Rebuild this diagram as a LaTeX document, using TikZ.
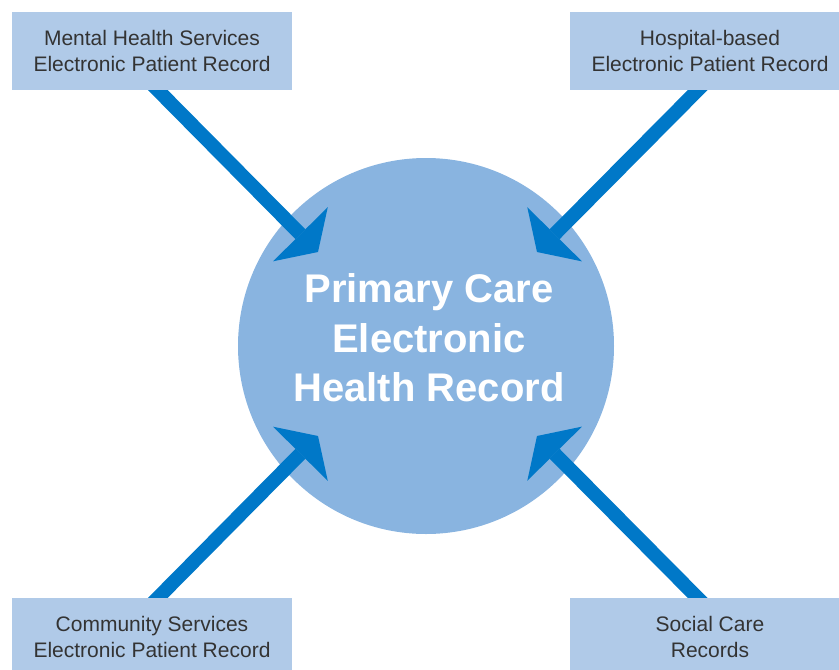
\documentclass[tikz,border=0pt]{standalone}
\usepackage{fontspec}
\setmainfont{Liberation Sans}
\usetikzlibrary{arrows.meta}
\definecolor{boxfill}{HTML}{B0CAE8}
\definecolor{circfill}{HTML}{89B4E0}
\definecolor{arrowblue}{HTML}{0078C8}
\definecolor{textgray}{HTML}{333333}
\pgfdeclarelayer{bg}\pgfdeclarelayer{fg}\pgfsetlayers{bg,main,fg}
\begin{document}
\begin{tikzpicture}[x=1pt,y=-1pt,
  srcbox/.style={rectangle, fill=boxfill, minimum width=280pt, minimum height=78pt,
    inner sep=0pt, align=center, text=textgray, font=\fontsize{21}{26}\selectfont},
  hub/.style={circle, fill=circfill, minimum size=376pt, inner sep=0pt},
  hubtext/.style={align=center, text=white, inner sep=0pt,
    font=\fontsize{40}{49.5}\selectfont\bfseries},
  feed/.style={draw=arrowblue, line width=14pt,
    -{Triangle[length=25pt,width=77pt,line width=0pt]}}]
\useasboundingbox (0,0) rectangle (839,670);
\clip (0,0) rectangle (839,670);
\begin{pgfonlayer}{bg}
  \node[hub] (hub) at (426,346) {};
\end{pgfonlayer}
\node[hubtext] (hubt) at (429,338) {Primary Care\\Electronic\\Health Record};
\begin{pgfonlayer}{fg}
  \node[srcbox] (mh) at (152,51) {Mental Health Services\\Electronic Patient Record};
  \node[srcbox] (hb) at (710,51) {Hospital-based\\Electronic Patient Record};
  \node[srcbox] (cs) at (152,637) {Community Services\\Electronic Patient Record};
  \node[srcbox] (sc) at (710,637) {Social Care\\Records};
\end{pgfonlayer}
\coordinate (t1) at (318,252);
\coordinate (t2) at (537,252);
\coordinate (t3) at (318,436);
\coordinate (t4) at (537,436);
\draw[feed] ([yshift=6pt]mh.south) -- (t1);
\draw[feed] ([xshift=-6.5pt,yshift=6pt]hb.south) -- (t2);
\draw[feed] ([yshift=-6pt]cs.north) -- (t3);
\draw[feed] ([xshift=-6.5pt,yshift=-6pt]sc.north) -- (t4);
\end{tikzpicture}
\end{document}
